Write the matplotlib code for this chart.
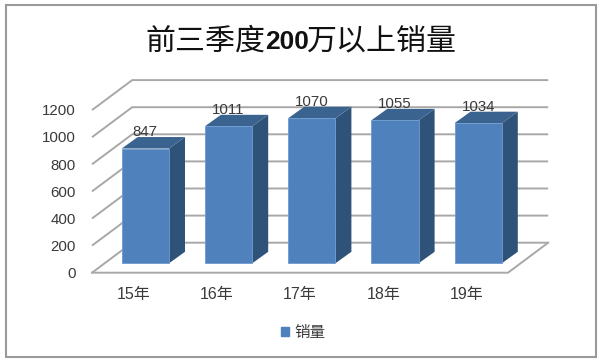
import matplotlib
matplotlib.use("Agg")
import matplotlib.pyplot as plt
from matplotlib.patches import Patch, Polygon, Rectangle

plt.rcParams['font.family'] = ['Liberation Sans', 'Noto Sans CJK SC']

# дані
categories = ['15年', '16年', '17年', '18年', '19年']
values = [847, 1011, 1070, 1055, 1034]
y_ticks = [0, 200, 400, 600, 800, 1000, 1200]
series_name = '销量'

W, H = 600, 362
# масштаб: пікселів на категорію та на одиницю значення
px_x = 83.2
px_y = 0.1355
x0 = 145.35   # центр першого стовпця
y0 = 263.3    # основа стовпців

bar_w = 47.3 / px_x
bar_dx, bar_dy = 16 / px_x, 11.5 / px_y      # глибина стовпця
wall_dx, wall_dy = 40.2 / px_x, 30 / px_y    # глибина підлоги

front_color = '#4F81BD'
side_color = '#2F5279'
top_color = '#3B6390'
grid_color = '#A8A8A8'
text_color = '#3A3A3A'

fig = plt.figure(figsize=(W / 100, H / 100), dpi=100)
ax = fig.add_axes([0, 0, 1, 1])
ax.set_xlim(-x0 / px_x, (W - x0) / px_x)
ax.set_ylim((y0 - H) / px_y, y0 / px_y)
ax.axis('off')

# зовнішня рамка
ax.add_patch(Rectangle((5.5 / W, 1 - 357 / H), 590 / W, 352.5 / H, transform=ax.transAxes,
                       fill=False, ec='#9A9A9A', lw=1.5, zorder=1))

# стіна, підлога і сітка
n = len(categories)
front_l = (92 - x0) / px_x
front_r = front_l + n
front_y = -9.4 / px_y
for v in y_ticks:
    yb = front_y + wall_dy + v
    ax.plot([front_l, front_l + wall_dx, front_r + wall_dx], [front_y + v, yb, yb],
            color=grid_color, lw=1.4, zorder=2, solid_capstyle='butt')
    ax.text(front_l - 16 / px_x, front_y + v - 1.2 / px_y, str(v), ha='right', va='center',
            fontsize=10.8, color=text_color)
ax.plot([front_l, front_r, front_r + wall_dx], [front_y, front_y, front_y + wall_dy],
        color=grid_color, lw=1.4, zorder=2)

# стовпці
for i, v in enumerate(values):
    l, r = i - bar_w / 2, i + bar_w / 2
    ax.add_patch(Polygon([(r, 0), (r + bar_dx, bar_dy), (r + bar_dx, v + bar_dy), (r, v)],
                         fc=side_color, ec='none', zorder=3))
    ax.add_patch(Polygon([(l, v), (r, v), (r + bar_dx, v + bar_dy), (l + bar_dx, v + bar_dy)],
                         fc=top_color, ec='none', zorder=3))
ax.bar(range(n), values, width=bar_w, color=front_color, edgecolor='#6E9BD0', lw=0.6, zorder=4)

for i, v in enumerate(values):
    ax.text(i, v + 16.5 / px_y, str(v), ha='center', va='center',
            fontsize=10.8, color=text_color, zorder=5)

# підписи категорій
for i, c in enumerate(categories):
    ax.text(front_l + 0.5 + i, (y0 - 295) / px_y, c, ha='center', va='center',
            fontsize=11.5, color=text_color)

# заголовок: "200" жирним
t1 = ax.text(145 / W, 1 - 41.5 / H, '前三季度', transform=ax.transAxes, ha='left', va='center',
             fontsize=21.6, family='Noto Sans CJK SC', color='#111111')
t2 = ax.annotate('200', xy=(1, 0.47), xycoords=t1, va='center', ha='left',
                 fontsize=19, fontweight='bold', family='Liberation Sans', color='#111111')
t3 = ax.annotate('万以上销量', xy=(1, 0.5), xycoords=t1, xytext=(42, 0),
                 textcoords='offset pixels', va='center', ha='left',
                 fontsize=21.6, family='Noto Sans CJK SC', color='#111111')

# легенда
ax.legend(handles=[Patch(color=front_color, label=series_name)], loc='center',
          bbox_to_anchor=(303 / W, 1 - 332.5 / H), frameon=False, fontsize=11.2,
          handlelength=0.52, handleheight=0.52, handletextpad=0.35, labelcolor=text_color)

fig.savefig('out.png', dpi=100)
